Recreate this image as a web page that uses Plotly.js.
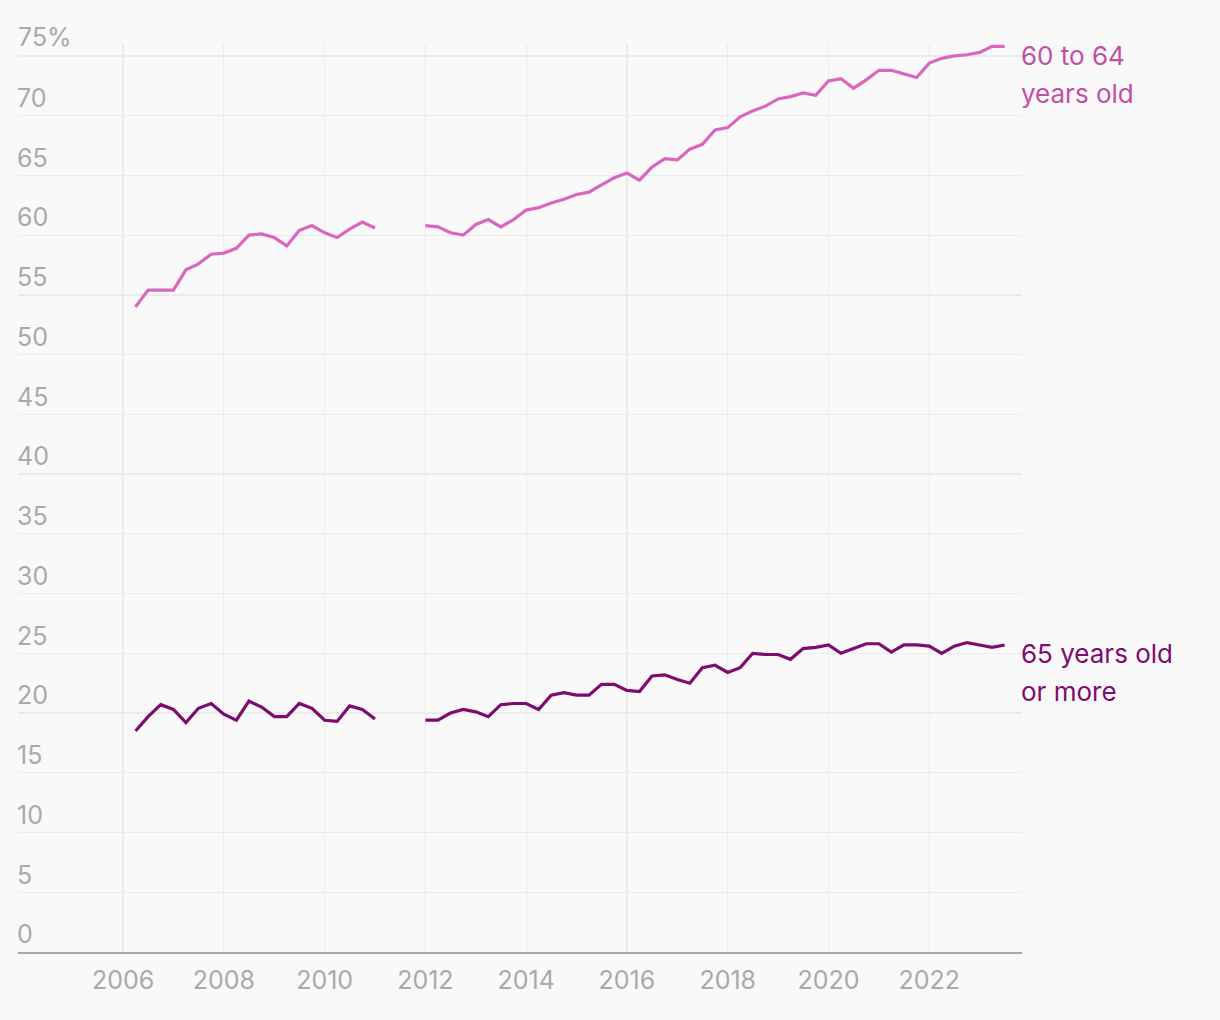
<!DOCTYPE html>
<html><head><meta charset="utf-8">
<script src="https://cdn.plot.ly/plotly-3.0.1.min.js"></script>
<style>html,body{margin:0;padding:0;background:#f9f9f9}</style>
</head><body><div id="chart" style="width:1220px;height:1020px"></div>
<script>
const quarters = [
'2006-04-01','2006-07-01','2006-10-01',
'2007-01-01','2007-04-01','2007-07-01','2007-10-01',
'2008-01-01','2008-04-01','2008-07-01','2008-10-01',
'2009-01-01','2009-04-01','2009-07-01','2009-10-01',
'2010-01-01','2010-04-01','2010-07-01','2010-10-01',
'2011-01-01','2011-04-01','2011-07-01','2011-10-01',
'2012-01-01','2012-04-01','2012-07-01','2012-10-01',
'2013-01-01','2013-04-01','2013-07-01','2013-10-01',
'2014-01-01','2014-04-01','2014-07-01','2014-10-01',
'2015-01-01','2015-04-01','2015-07-01','2015-10-01',
'2016-01-01','2016-04-01','2016-07-01','2016-10-01',
'2017-01-01','2017-04-01','2017-07-01','2017-10-01',
'2018-01-01','2018-04-01','2018-07-01','2018-10-01',
'2019-01-01','2019-04-01','2019-07-01','2019-10-01',
'2020-01-01','2020-04-01','2020-07-01','2020-10-01',
'2021-01-01','2021-04-01','2021-07-01','2021-10-01',
'2022-01-01','2022-04-01','2022-07-01','2022-10-01',
'2023-01-01','2023-04-01','2023-07-01'];

const age60to64 = [
54.0,55.4,55.4,
55.4,57.1,57.6,58.4,
58.5,58.9,60.0,60.1,
59.8,59.1,60.4,60.8,
60.2,59.8,60.5,61.1,
60.6,null,null,null,
60.8,60.7,60.2,60.0,
60.9,61.3,60.7,61.3,
62.1,62.3,62.7,63.0,
63.4,63.6,64.2,64.8,
65.2,64.6,65.7,66.4,
66.3,67.2,67.6,68.8,
69.0,69.9,70.4,70.8,
71.4,71.6,71.9,71.7,
72.9,73.1,72.3,73.0,
73.8,73.8,73.5,73.2,
74.4,74.8,75.0,75.1,
75.3,75.8,75.8];

const age65plus = [
18.5,19.7,20.7,
20.3,19.2,20.4,20.8,
19.9,19.4,21.0,20.5,
19.7,19.7,20.8,20.4,
19.4,19.3,20.6,20.3,
19.5,null,null,null,
19.4,19.4,20.0,20.3,
20.1,19.7,20.7,20.8,
20.8,20.3,21.5,21.7,
21.5,21.5,22.4,22.4,
21.9,21.8,23.1,23.2,
22.8,22.5,23.8,24.0,
23.4,23.8,25.0,24.9,
24.9,24.5,25.4,25.5,
25.7,25.0,25.4,25.8,
25.8,25.1,25.7,25.7,
25.6,25.0,25.6,25.9,
25.7,25.5,25.7];

const seriesNames = ['60 to 64 years old', '65 years old or more'];
const labelLines = [['60 to 64', 'years old'], ['65 years old', 'or more']];
const yTickVals = [0,5,10,15,20,25,30,35,40,45,50,55,60,65,70,75];
const yTickText = ['0','5','10','15','20','25','30','35','40','45','50','55','60','65','70','75%'];
const xTickVals = ['2006-01-01','2008-01-01','2010-01-01','2012-01-01','2014-01-01','2016-01-01','2018-01-01','2020-01-01','2022-01-01'];
const xTickText = ['2006','2008','2010','2012','2014','2016','2018','2020','2022'];

const pink = '#d967bf', pinkText = '#c24fa6', purple = '#7e0b6f';
const FONT = 'Inter, "Noto Sans", sans-serif';
const grey = '#a9a9a9';

const traces = [
  {x: quarters, y: age60to64, name: seriesNames[0], type: 'scatter', mode: 'lines',
   connectgaps: false, line: {color: pink, width: 3.2}},
  {x: quarters, y: age65plus, name: seriesNames[1], type: 'scatter', mode: 'lines',
   connectgaps: false, line: {color: purple, width: 3.2}}
];

const last = a => a[a.length - 1];
const annotations = [];
[[age60to64, pinkText, 0], [age65plus, purple, 1]].forEach(([arr, col, i]) => {
  [-9, -47].forEach((sh, k) => {
    annotations.push({x: 1, xref: 'paper', y: last(arr), yref: 'y', xanchor: 'left', yanchor: 'middle',
      xshift: -3, yshift: sh, showarrow: false, text: labelLines[i][k],
      font: {family: FONT, size: 26, color: col}});
  });
});
// top tick label (sits above the plot area, so drawn as an annotation)
const topIdx = yTickVals.length - 1;
annotations.push({x: 0, xref: 'paper', y: yTickVals[topIdx], yref: 'y', xanchor: 'left', yanchor: 'middle',
  xshift: -2, yshift: 19, showarrow: false, text: yTickText[topIdx],
  font: {family: FONT, size: 25, color: grey}});

const layout = {
  width: 1220, height: 1020,
  margin: {l: 18, r: 198, t: 44, b: 68},
  paper_bgcolor: '#f9f9f9', plot_bgcolor: '#f9f9f9',
  showlegend: false,
  font: {family: FONT, size: 25, color: grey},
  xaxis: {type: 'date', range: ['2003-12-01', '2023-11-04'],
    tickvals: xTickVals, ticktext: xTickText, showgrid: true, gridcolor: '#ebebeb', gridwidth: 1.3,
    showline: true, linecolor: grey, linewidth: 2, ticks: '', zeroline: false,
    tickfont: {family: FONT, size: 25, color: grey}, ticklabelstandoff: 5},
  yaxis: {range: [0, 76], tickvals: yTickVals.slice(0, topIdx + 1), ticktext: yTickText.map((t, i) => i === topIdx ? '' : t),
    showgrid: true, gridcolor: '#ebebeb', gridwidth: 1.3, zeroline: false, showline: false, ticks: '',
    ticklabelposition: 'inside top', ticklabelstandoff: -4,
    tickfont: {family: FONT, size: 25, color: grey}},
  annotations: annotations
};

Plotly.newPlot('chart', traces, layout, {staticPlot: true, displayModeBar: false});
</script></body></html>
